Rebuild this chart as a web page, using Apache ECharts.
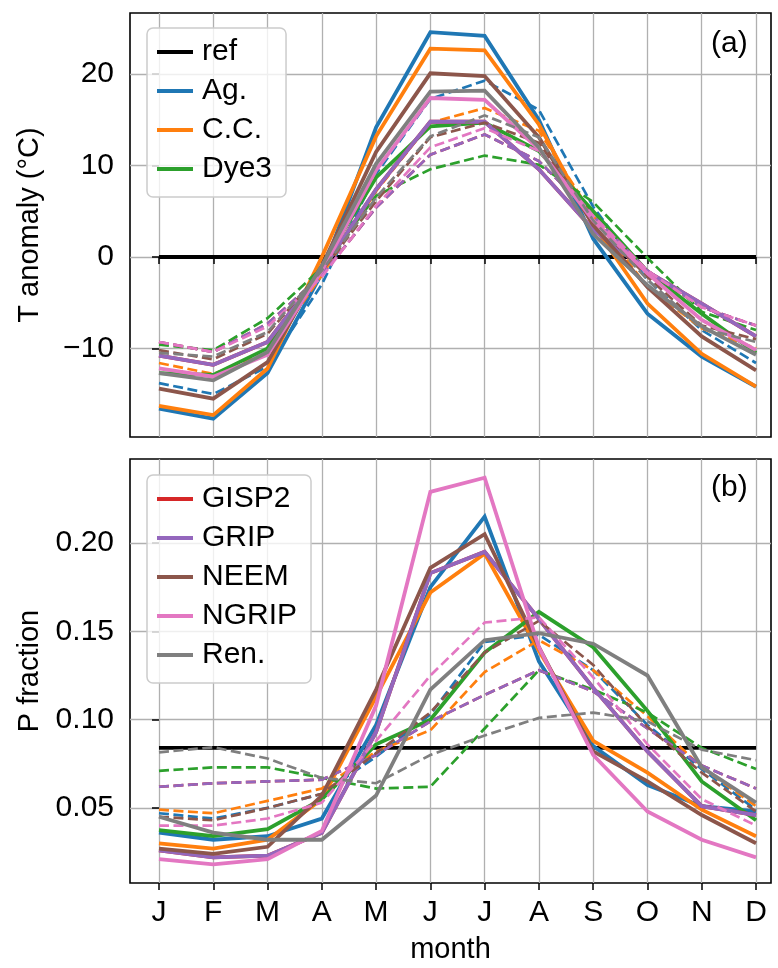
<!DOCTYPE html>
<html><head><meta charset="utf-8">
<script src="https://cdn.jsdelivr.net/npm/echarts@6/dist/echarts.min.js"></script>
<style>html,body{margin:0;padding:0;background:#fff}#c{width:778px;height:968px}</style>
</head><body><div id="c"></div>
<script>
// ---- data ----
const months = ['J','F','M','A','M','J','J','A','S','O','N','D'];
const monthPos = [0,1,2,3,4,5,6,7,8,9,10,11];
const tTicks = [-10, 0, 10, 20];
const pTicks = [0.05, 0.10, 0.15, 0.20];
const tRef = [0,0,0,0,0,0,0,0,0,0,0,0];
const pRef = [0.084,0.084,0.084,0.084,0.084,0.084,0.084,0.084,0.084,0.084,0.084,0.084];

// temperature anomaly (°C), solid / dashed
const tAgSolid    = [-16.6,-17.7,-12.7,-1.8,14.2,24.6,24.2,15.0,2.0,-6.2,-10.9,-14.2];
const tAgDashed   = [-13.8,-15.0,-12.0,-3.0,9.1,17.3,19.3,16.1,5.5,-2.5,-8.0,-11.6];
const tCCSolid    = [-16.3,-17.3,-12.2,0.0,13.2,22.8,22.6,14.5,3.5,-5.1,-10.6,-14.2];
const tCCDashed   = [-11.6,-12.8,-10.5,-2.0,7.2,14.7,16.3,13.8,4.5,-3.3,-7.8,-10.0];
const tDyeSolid   = [-12.7,-12.9,-10.0,-1.0,8.7,14.3,14.7,11.6,5.0,-1.6,-6.2,-10.5];
const tDyeDashed  = [-9.6,-10.2,-6.7,-1.2,6.7,9.6,11.1,10.1,6.0,-0.1,-6.0,-8.0];
const tGISPSolid  = [-10.8,-11.8,-9.3,-1.5,7.4,14.8,14.8,9.6,3.0,-1.6,-5.1,-8.7];
const tGISPDashed = [-9.3,-10.4,-7.3,-2.0,5.4,11.2,13.4,10.5,4.5,-1.5,-5.5,-7.5];
const tGRIPSolid  = [-10.8,-11.8,-9.3,-1.5,7.4,14.8,14.8,9.6,3.0,-1.6,-5.1,-8.7];
const tGRIPDashed = [-9.3,-10.4,-7.3,-2.0,5.4,11.2,13.4,10.5,4.5,-1.5,-5.5,-7.5];
const tNEEMSolid  = [-14.4,-15.5,-11.5,-1.0,11.5,20.1,19.8,13.1,3.5,-3.3,-8.7,-12.4];
const tNEEMDashed = [-10.2,-11.2,-8.4,-1.5,6.1,13.1,14.7,12.5,4.0,-2.2,-7.5,-9.0];
const tNGRIPSolid = [-12.2,-13.1,-10.7,-1.5,9.5,17.4,17.2,11.8,4.0,-1.8,-6.9,-10.2];
const tNGRIPDashed= [-9.3,-10.4,-7.6,-2.2,5.6,12.0,14.1,11.6,4.5,-1.5,-5.5,-7.5];
const tRenSolid   = [-12.7,-13.5,-10.4,-1.0,10.2,18.1,18.2,12.0,2.5,-3.1,-7.6,-10.7];
const tRenDashed  = [-10.5,-10.9,-8.2,-1.5,6.5,13.2,15.5,13.1,4.0,-2.5,-7.8,-9.3];

// precipitation fraction, solid / dashed
const pAgSolid    = [0.036,0.032,0.034,0.044,0.097,0.175,0.215,0.133,0.085,0.063,0.051,0.048];
const pAgDashed   = [0.047,0.044,0.050,0.058,0.079,0.103,0.144,0.148,0.128,0.097,0.072,0.049];
const pCCSolid    = [0.030,0.027,0.032,0.055,0.113,0.172,0.194,0.139,0.088,0.070,0.049,0.034];
const pCCDashed   = [0.049,0.047,0.054,0.061,0.082,0.094,0.127,0.145,0.128,0.102,0.073,0.051];
const pDyeSolid   = [0.0375,0.034,0.038,0.055,0.086,0.100,0.138,0.161,0.141,0.105,0.065,0.043];
const pDyeDashed  = [0.071,0.073,0.073,0.067,0.061,0.062,0.095,0.128,0.117,0.104,0.084,0.072];
const pGISPSolid  = [0.026,0.022,0.023,0.036,0.093,0.183,0.195,0.157,0.118,0.082,0.051,0.046];
const pGISPDashed = [0.062,0.064,0.065,0.066,0.080,0.099,0.114,0.128,0.116,0.095,0.074,0.061];
const pGRIPSolid  = [0.026,0.022,0.023,0.036,0.093,0.183,0.195,0.157,0.118,0.082,0.051,0.046];
const pGRIPDashed = [0.062,0.064,0.065,0.066,0.080,0.099,0.114,0.128,0.116,0.095,0.074,0.061];
const pNEEMSolid  = [0.027,0.024,0.028,0.057,0.117,0.186,0.205,0.141,0.082,0.065,0.046,0.030];
const pNEEMDashed = [0.045,0.043,0.050,0.058,0.081,0.104,0.138,0.156,0.131,0.096,0.070,0.048];
const pNGRIPSolid = [0.021,0.018,0.021,0.037,0.108,0.229,0.237,0.141,0.080,0.048,0.032,0.022];
const pNGRIPDashed= [0.040,0.040,0.044,0.053,0.088,0.125,0.155,0.158,0.124,0.086,0.055,0.040];
const pRenSolid   = [0.045,0.036,0.032,0.032,0.057,0.117,0.145,0.149,0.143,0.125,0.073,0.053];
const pRenDashed  = [0.0815,0.0844,0.078,0.067,0.064,0.080,0.091,0.101,0.104,0.099,0.083,0.077];

const siteNames = ['Ag.','C.C.','Dye3','GISP2','GRIP','NEEM','NGRIP','Ren.'];
const siteColors = ['#1f77b4','#ff7f0e','#2ca02c','#d62728','#9467bd','#8c564b','#e377c2','#7f7f7f'];
const tSolid  = [tAgSolid,tCCSolid,tDyeSolid,tGISPSolid,tGRIPSolid,tNEEMSolid,tNGRIPSolid,tRenSolid];
const tDashed = [tAgDashed,tCCDashed,tDyeDashed,tGISPDashed,tGRIPDashed,tNEEMDashed,tNGRIPDashed,tRenDashed];
const pSolid  = [pAgSolid,pCCSolid,pDyeSolid,pGISPSolid,pGRIPSolid,pNEEMSolid,pNGRIPSolid,pRenSolid];
const pDashed = [pAgDashed,pCCDashed,pDyeDashed,pGISPDashed,pGRIPDashed,pNEEMDashed,pNGRIPDashed,pRenDashed];

// ---- chart ----
const FONT = 'Liberation Sans, Arial, sans-serif';
const FS = 29;
const LFS = 30;
const pts = arr => monthPos.map((x, i) => [x, arr[i]]);

function line(name, color, data, gi, dashed) {
  return {
    type: 'line', name: name, xAxisIndex: gi, yAxisIndex: gi,
    data: pts(data), symbol: 'none', showSymbol: false, silent: true, animation: false,
    lineStyle: { color: color, width: dashed ? 2.7 : 3.8, type: dashed ? [10, 4.5] : 'solid', cap: 'butt', join: 'miter' },
    itemStyle: { color: color }
  };
}

const series = [];
series.push(line('ref', '#000000', tRef, 0, false));
series.push(line('ref', '#000000', pRef, 1, false));
siteNames.forEach((n, i) => {
  series.push(line(n, siteColors[i], tSolid[i], 0, false));
  series.push(line(n + ' (dashed)', siteColors[i], tDashed[i], 0, true));
  series.push(line(n, siteColors[i], pSolid[i], 1, false));
  series.push(line(n + ' (dashed)', siteColors[i], pDashed[i], 1, true));
});

const gridLine = { show: true, lineStyle: { color: '#b0b0b0', width: 1.3 } };
const tickStyle = { show: true, length: 7, inside: false, lineStyle: { color: '#000', width: 1.5 } };

function xAxis(gi, showLabels) {
  return {
    type: 'value', gridIndex: gi, min: -0.534, max: 11.276,
    axisLine: { show: false },
    axisTick: Object.assign({ customValues: monthPos }, tickStyle),
    axisLabel: { show: showLabels, customValues: monthPos, margin: 15, fontSize: LFS, fontFamily: FONT, color: '#000',
      formatter: v => months[Math.round(v)] },
    splitLine: gridLine,
    name: showLabels ? 'month' : '', nameLocation: 'middle', nameGap: 52,
    nameTextStyle: { fontSize: FS, fontFamily: FONT, color: '#000' }
  };
}

const legendCommon = {
  orient: 'vertical', itemWidth: 36, itemHeight: 20, itemGap: 9,
  backgroundColor: 'rgba(255,255,255,0.8)', borderColor: '#cccccc', borderWidth: 1.5, borderRadius: 6,
  textStyle: { fontSize: LFS, fontFamily: FONT, color: '#000', lineHeight: 30, padding: [0, 0, 0, 4] },
  selectedMode: false, icon: 'path://M0,0 L36,0 L36,4 L0,4 Z'
};

const option = {
  backgroundColor: '#ffffff',
  animation: false,
  grid: [
    { left: 130, top: 13, width: 641, height: 424, show: true, borderColor: '#000', borderWidth: 1.6, containLabel: false },
    { left: 130, top: 459, width: 641, height: 424, show: true, borderColor: '#000', borderWidth: 1.6, containLabel: false }
  ],
  xAxis: [xAxis(0, false), xAxis(1, true)],
  yAxis: [
    { type: 'value', gridIndex: 0, min: -19.7, max: 26.7,
      axisLine: { show: false },
      axisTick: Object.assign({ customValues: tTicks }, tickStyle),
      axisLabel: { customValues: tTicks, margin: 16, fontSize: LFS, fontFamily: FONT, color: '#000',
        formatter: v => (v < 0 ? '\u2212' + Math.abs(v) : String(v)) },
      splitLine: gridLine,
      name: 'T anomaly (°C)', nameLocation: 'middle', nameGap: 86,
      nameTextStyle: { fontSize: FS, fontFamily: FONT, color: '#000' } },
    { type: 'value', gridIndex: 1, min: 0.0075, max: 0.2476,
      axisLine: { show: false },
      axisTick: Object.assign({ customValues: pTicks }, tickStyle),
      axisLabel: { customValues: pTicks, margin: 16, fontSize: LFS, fontFamily: FONT, color: '#000',
        formatter: v => v.toFixed(2) },
      splitLine: gridLine,
      name: 'P fraction', nameLocation: 'middle', nameGap: 86,
      nameTextStyle: { fontSize: FS, fontFamily: FONT, color: '#000' } }
  ],
  legend: [
    Object.assign({}, legendCommon, { left: 147, top: 28, padding: [9, 14, 13, 10],
      data: ['ref', 'Ag.', 'C.C.', 'Dye3'] }),
    Object.assign({}, legendCommon, { left: 147, top: 475, padding: [9, 14, 13, 10],
      data: ['GISP2', 'GRIP', 'NEEM', 'NGRIP', 'Ren.'] })
  ],
  title: [
    { text: '(a)', left: 711, top: 29, padding: 0, textStyle: { fontSize: LFS, fontWeight: 'normal', fontFamily: FONT, color: '#000' } },
    { text: '(b)', left: 711, top: 473, padding: 0, textStyle: { fontSize: LFS, fontWeight: 'normal', fontFamily: FONT, color: '#000' } }
  ],
  series: series
};

const chart = echarts.init(document.getElementById('c'), null, { renderer: 'canvas' });
chart.setOption(option);
</script>
</body></html>
